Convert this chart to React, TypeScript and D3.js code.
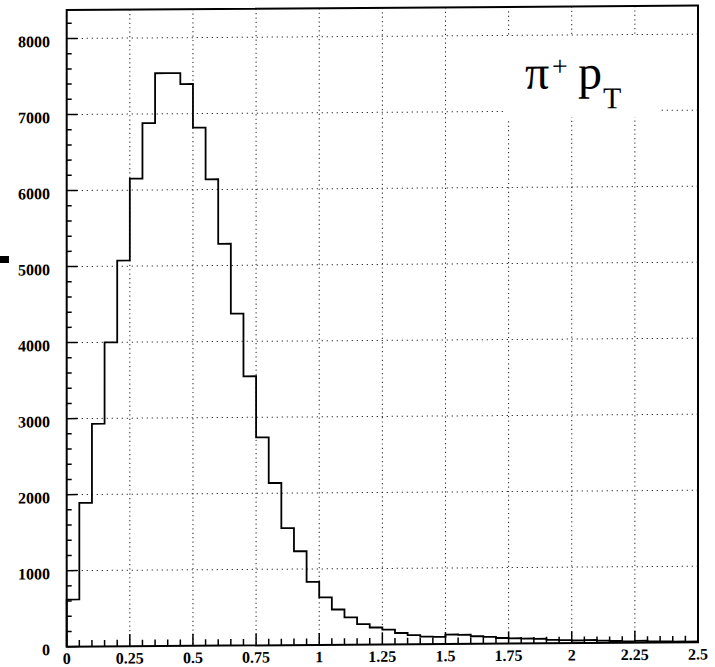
import React from "react";
import * as d3 from "d3";

const binWidth = 0.05;
const counts = [
  620, 1890, 2930, 4000, 5075, 6150, 6880, 7535, 7535, 7390,
  6815, 6135, 5285, 4365, 3540, 2735, 2135, 1540, 1235, 830,
  625, 465, 360, 270, 225, 195, 150, 120, 100, 95,
  125, 120, 100, 90, 75, 70, 65, 60, 45, 40,
  35, 40, 30, 25, 20, 25, 15, 15, 12, 10,
];
const xTickLabels = ["0", "0.25", "0.5", "0.75", "1", "1.25", "1.5", "1.75", "2", "2.25", "2.5"];
const xTickValues = [0, 0.25, 0.5, 0.75, 1, 1.25, 1.5, 1.75, 2, 2.25, 2.5];
const yTickValues = [0, 1000, 2000, 3000, 4000, 5000, 6000, 7000, 8000];
const titleMain = "\u03C0";
const titleSup = "+";
const titleP = "p";
const titleSub = "T";

const W = 715;
const H = 667;
const L = 66.7;
const R = 698;
const T = 10;
const B = 646.7;
const k = 0.007;

export default function App() {
  const x = d3.scaleLinear().domain([0, 2.5]).range([L, R]);
  const y = d3.scaleLinear().domain([0, 8375]).range([B, T]);

  const pts: [number, number][] = [[0, 0]];
  counts.forEach((c, i) => {
    pts.push([i * binWidth, c]);
    pts.push([(i + 1) * binWidth, c]);
  });
  pts.push([counts.length * binWidth, 0]);
  const line = d3.line<[number, number]>().x((d) => x(d[0])).y((d) => y(d[1]));

  const xMinor = d3.range(0, 2.5001, 0.05);
  const yMinor = d3.range(0, 8375, 200);
  const font = "'Liberation Serif', 'Times New Roman', serif";

  return (
    <svg
      width={W}
      height={H}
      style={{ position: "absolute", left: 0, top: 0, background: "#fff" }}
    >
      <rect x={0} y={0} width={W} height={H} fill="#fff" />
      <g transform={`matrix(1, ${-k}, 0, 1, 0, ${k * L})`}>
        {/* grid */}
        {yTickValues.filter((v) => v > 0).map((v) => (
          <line key={"gy" + v} x1={L} x2={R} y1={y(v)} y2={y(v)} stroke="#222" strokeWidth={1} strokeDasharray="1.2 3.8" />
        ))}
        {xTickValues.filter((v) => v > 0 && v < 2.5).map((v) => (
          <line key={"gx" + v} x1={x(v)} x2={x(v)} y1={T} y2={B} stroke="#222" strokeWidth={1} strokeDasharray="1.2 3.2" />
        ))}
        {/* title box */}
        <rect x={503} y={40} width={155} height={81} fill="#fff" />
        {/* histogram */}
        <path d={line(pts) || ""} fill="none" stroke="#000" strokeWidth={1.8} />
        {/* ticks */}
        {xMinor.map((v, i) => {
          const major = i % 5 === 0;
          return (
            <line key={"tx" + i} x1={x(v)} x2={x(v)} y1={B} y2={B - (major ? 12 : 6.5)} stroke="#000" strokeWidth={1.5} />
          );
        })}
        {yMinor.map((v, i) => {
          const major = i % 5 === 0;
          return (
            <line key={"ty" + i} x1={L} x2={L + (major ? 11 : 5)} y1={y(v)} y2={y(v)} stroke="#000" strokeWidth={1.5} />
          );
        })}
        {/* frame */}
        <rect x={L} y={T} width={R - L} height={B - T} fill="none" stroke="#000" strokeWidth={2} />
        {/* tick labels */}
        {xTickValues.map((v, i) => (
          <text key={"lx" + i} x={x(v)} y={664} textAnchor="middle" fontFamily={font} fontWeight="bold" fontSize={16} fill="#000">
            {xTickLabels[i]}
          </text>
        ))}
        {yTickValues.map((v) => (
          <text key={"ly" + v} x={50} y={y(v) + 8.5} textAnchor="end" fontFamily={font} fontWeight="bold" fontSize={16} fill="#000">
            {String(v)}
          </text>
        ))}
        {/* title */}
        <text x={525} y={92} fontFamily={font} fontSize={48} fill="#000">{titleMain}</text>
        <text x={552} y={79} fontFamily={font} fontSize={28} fill="#000">{titleSup}</text>
        <text x={578} y={92} fontFamily={font} fontSize={48} fill="#000">{titleP}</text>
        <text x={603} y={112} fontFamily={font} fontSize={30} fill="#000">{titleSub}</text>
      </g>
      <rect x={0} y={256} width={9} height={7} fill="#000" />
    </svg>
  );
}
